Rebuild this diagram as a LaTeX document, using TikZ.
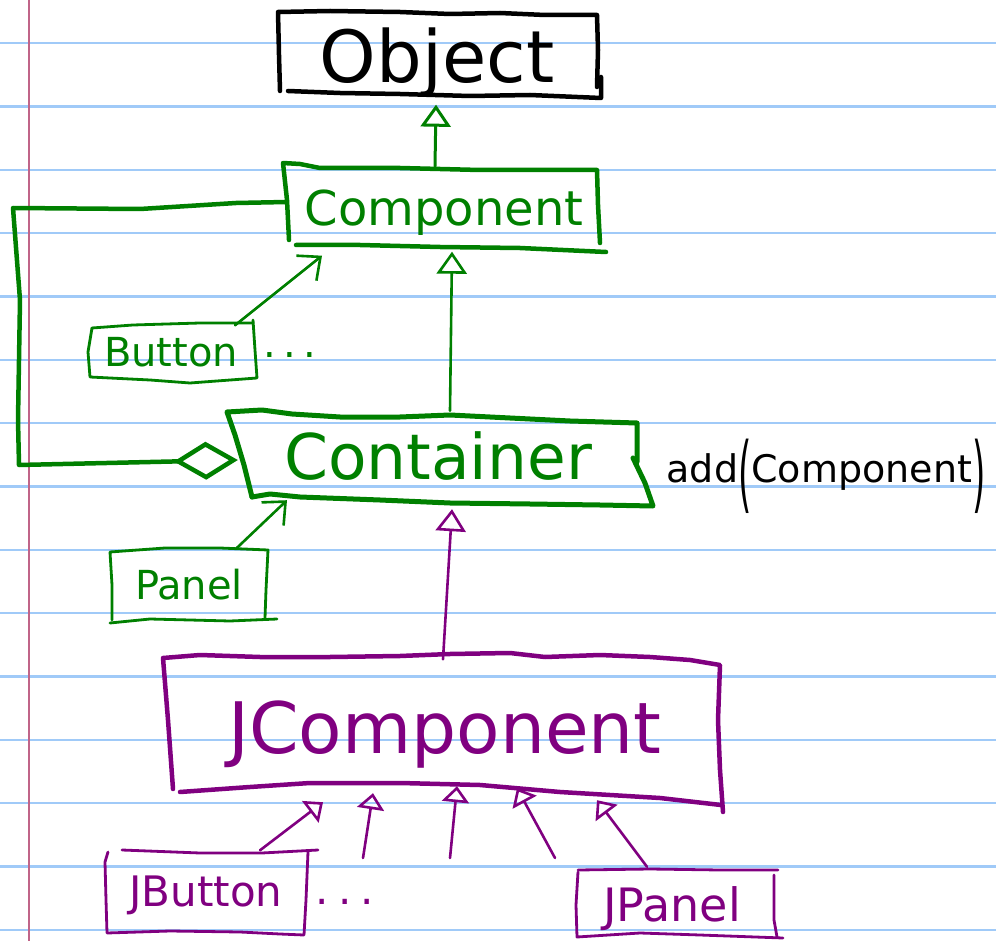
\documentclass[tikz,border=0pt]{standalone}
\usepackage{fontspec}
\usepackage{graphicx}
\setmainfont{DejaVu Sans}
\usetikzlibrary{arrows.meta}
\definecolor{grn}{RGB}{0,128,0}
\definecolor{prp}{RGB}{128,0,128}
\definecolor{ruleblue}{RGB}{160,202,248}
\definecolor{marginred}{RGB}{192,100,136}

\begin{document}
\begin{tikzpicture}[x=1pt, y=-1pt, line cap=round, line join=round,
  box/.style={draw=none, inner sep=0pt, text depth=0pt},
  heavy/.style={line width=4.5pt},
  light/.style={line width=2.8pt},
  gen/.style={line width=2.6pt, -{Triangle[open,length=22pt,width=30pt]}},
  gensmall/.style={line width=2.6pt, -{Triangle[open,length=16pt,width=27pt]}},
  assoc/.style={line width=2.6pt, -{Straight Barb[length=18pt,width=32pt]}},
  agg/.style={line width=4.5pt, -{Diamond[open,length=64pt,width=38pt]}},
  paperrule/.style={ruleblue, line width=2.3pt},
]
% paper
\useasboundingbox (0,0) rectangle (996,941);
\fill[white] (0,0) rectangle (996,941);
\foreach \k in {0,...,14}
  \draw[paperrule] (0,{43.3+63.33*\k}) -- (996,{43.3+63.33*\k});
\draw[marginred, line width=2.5pt] (29,0) -- (29,941);

% class names
\node[box, minimum width=320pt, minimum height=83pt, text height=52pt,
      font=\fontsize{72pt}{80pt}\selectfont] (obj) at (437,57) {Object};
\node[box, text=grn, minimum width=315pt, minimum height=83pt, text height=35pt,
      font=\fontsize{48pt}{56pt}\selectfont] (comp) at (444,208) {Component};
\node[box, text=grn, minimum width=400pt, minimum height=90pt, text height=46pt,
      font=\fontsize{63pt}{70pt}\selectfont] (cont) at (438,456) {Container};
\node[box, text=prp, minimum width=554pt, minimum height=135pt, text height=52pt,
      font=\fontsize{71pt}{80pt}\selectfont] (jcomp) at (445,727) {JComponent};
\node[box, text=grn, minimum width=169pt, minimum height=53pt, text height=29pt,
      font=\fontsize{40pt}{46pt}\selectfont] (btn) at (171,352) {Button};
\node[box, text=grn, minimum width=160pt, minimum height=70pt, text height=29pt,
      font=\fontsize{40pt}{46pt}\selectfont] (pnl) at (189,585) {Panel};
\node[box, text=prp, minimum width=201pt, minimum height=83pt, text height=31pt,
      font=\fontsize{42pt}{48pt}\selectfont] (jbtn) at (206,891) {JButton};
\node[box, text=prp, minimum width=199pt, minimum height=67pt, text height=34pt,
      font=\fontsize{46pt}{52pt}\selectfont] (jpnl) at (672,904) {JPanel};

\node[anchor=base, inner sep=0pt, text=grn, font=\fontsize{40pt}{46pt}\selectfont]
  (moreA) at (290,357) {.\hspace{7pt}.\hspace{7pt}.};
\node[anchor=base, inner sep=0pt, text=prp, font=\fontsize{42pt}{50pt}\selectfont]
  (moreB) at (345,904) {.\hspace{9pt}.\hspace{9pt}.};
\node[anchor=base, inner sep=0pt, font=\fontsize{38pt}{44pt}\selectfont] (addop) at (826,482)
  {add\raisebox{-20pt}{\scalebox{0.9}[2.2]{(}}Component\raisebox{-20pt}{\scalebox{0.9}[2.2]{)}}};

% hand-drawn outlines
\draw[black, heavy] (280,91) -- (279,55) -- (278,12) -- (330,11) -- (400,12) -- (450,14)
  -- (500,13) -- (545,15) -- (597,15) -- (598,50) -- (597,87);
\draw[black, heavy] (288,91) -- (340,93) -- (400,94) -- (470,96) -- (530,95) -- (601,98) -- (601,77);

\draw[grn, heavy] (289,240) -- (287,200) -- (283,163) -- (300,164) -- (320,168) -- (400,168)
  -- (480,170) -- (597,170) -- (598,205) -- (600,243);
\draw[grn, heavy] (296,245) -- (360,245) -- (440,247) -- (520,248) -- (606,252);

\draw[grn, line width=5pt] (252,497) -- (244,465) -- (235,435) -- (227,412) -- (262,410)
  -- (292,414) -- (340,417) -- (400,417) -- (450,415) -- (510,418) -- (570,421) -- (637,423) -- (637,462);
\draw[grn, line width=5pt] (633,458) -- (645,483) -- (653,506) -- (600,505) -- (530,504)
  -- (450,503) -- (380,500) -- (300,497) -- (270,494) -- (252,497);

\draw[prp, heavy] (173,789) -- (168,720) -- (163,658) -- (200,655) -- (260,657) -- (330,657)
  -- (400,656) -- (450,654) -- (510,653) -- (545,657) -- (600,655) -- (650,657) -- (690,660)
  -- (720,665) -- (718,720) -- (720,770) -- (723,812);
\draw[prp, heavy] (180,792) -- (250,787) -- (310,783) -- (400,783) -- (480,785) -- (560,792)
  -- (660,798) -- (721,805);

\draw[grn, light] (92,328) -- (133,325) -- (200,323) -- (253,323);
\draw[grn, light] (92,328) -- (88,352) -- (90,377) -- (150,380) -- (190,383) -- (257,378)
  -- (255,350) -- (253,320);

\draw[grn, light] (112,620) -- (112,585) -- (110,552) -- (165,548) -- (220,548) -- (268,550)
  -- (266,590) -- (265,618);
\draw[grn, light] (110,623) -- (150,619) -- (230,621) -- (277,619);

\draw[prp, light] (108,852) -- (105,862) -- (106,900) -- (107,933) -- (170,931) -- (240,932)
  -- (280,934) -- (304,935) -- (306,900) -- (308,852);
\draw[prp, light] (122,850) -- (200,853) -- (262,853) -- (318,850);

\draw[prp, light] (578,872) -- (576,905) -- (577,937) -- (640,933) -- (700,935) -- (783,938);
\draw[prp, light] (578,870) -- (650,869) -- (720,870) -- (778,870);
\draw[prp, light] (774,875) -- (774,920) -- (777,937);

% relations
\draw[grn, gen, line width=3pt] ([xshift=-9]comp.north) -- ([xshift=-1,yshift=-6]obj.south);
\draw[grn, gen] ([xshift=12]cont.north) -- ([xshift=8,yshift=-2]comp.south);
\draw[grn, assoc] ([xshift=64]btn.north) -- ([xshift=-122,yshift=-6]comp.south);
\draw[grn, assoc] ([xshift=48,yshift=2]pnl.north) -- ([xshift=-151,yshift=1]cont.south);
\draw[grn, agg] ([yshift=6]comp.west) -- (236,203) -- (140,209) -- (13,208) -- (20,300)
  -- (18,420) -- (19,465) -- ([yshift=-4]cont.west);
\draw[prp, gen] ([xshift=-2]jcomp.north) -- ([xshift=14,yshift=-8]cont.south);

\coordinate (sub1) at (363,858);
\coordinate (sub2) at (450,858);
\coordinate (sub3) at (555,858);
\draw[prp, gensmall] ([xshift=54,yshift=-1]jbtn.north) -- ([xshift=-122,yshift=-7.5]jcomp.south);
\draw[prp, gensmall] (sub1) -- ([xshift=-72,yshift=1.5]jcomp.south);
\draw[prp, gensmall] (sub2) -- ([xshift=12,yshift=8.5]jcomp.south);
\draw[prp, gensmall] (sub3) -- ([xshift=72,yshift=6.5]jcomp.south);
\draw[prp, gensmall] ([xshift=-25,yshift=3.5]jpnl.north) -- ([xshift=152,yshift=-5.5]jcomp.south);
\end{tikzpicture}
\end{document}
